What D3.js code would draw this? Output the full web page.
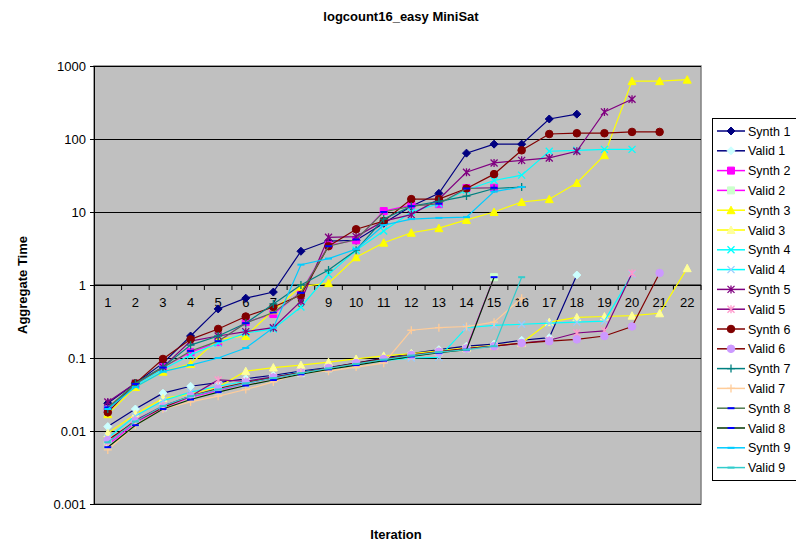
<!DOCTYPE html>
<html>
<head>
<meta charset="utf-8">
<script src="https://cdn.jsdelivr.net/npm/d3@7"></script>
<style>
  body { margin: 0; background: #fff; font-family: Arial, "Liberation Sans", sans-serif; }
</style>
</head>
<body>
<div id="chart"></div>
<script>
// iterations on the category axis
let iterations = [1, 2, 3, 4, 5, 6, 7, 8, 9, 10, 11, 12, 13, 14, 15, 16, 17, 18, 19, 20, 21, 22];
let yTicks = [0.001, 0.01, 0.1, 1, 10, 100, 1000];

// aggregate time per iteration
let synth1 = [0.024, 0.045, 0.085, 0.2, 0.47, 0.66, 0.8, 2.9, 4.0, 4.1, 7.0, 12, 18, 64, 85, 85, 188, 219];
let valid1 = [0.0115, 0.02, 0.033, 0.041, 0.046, 0.052, 0.058, 0.066, 0.074, 0.085, 0.1, 0.115, 0.13, 0.145, 0.155, 0.175, 0.19, 1.37];
let synth2 = [0.02, 0.043, 0.075, 0.12, 0.165, 0.31, 0.4, 0.8, 3.5, 4.1, 10.3, 12.4, 12.8, 21.3, 21.5];
let valid2 = [0.0065, 0.013, 0.021, 0.029, 0.036, 0.045, 0.053, 0.062, 0.072, 0.082, 0.095, 0.108, 0.12, 0.135, 1.28];
let synth3 = [0.017, 0.04, 0.065, 0.083, 0.18, 0.2, 0.45, 0.95, 1.06, 2.4, 3.8, 5.2, 6.0, 7.8, 10, 13.7, 15, 25, 60, 620, 620, 650];
let valid3 = [0.0093, 0.017, 0.028, 0.032, 0.04, 0.066, 0.074, 0.08, 0.088, 0.097, 0.107, 0.115, 0.125, 0.138, 0.148, 0.16, 0.31, 0.36, 0.37, 0.38, 0.41, 1.7];
let synth4 = [0.02, 0.042, 0.07, 0.11, 0.16, 0.22, 0.25, 0.5, 1.4, 3.0, 5.5, 10, 13, 20, 27, 32, 68, 70, 72, 72];
let valid4 = [0.008, 0.016, 0.026, 0.034, 0.041, 0.048, 0.055, 0.064, 0.072, 0.082, 0.092, 0.1, 0.102, 0.26, 0.28, 0.29, 0.3, 0.31, 0.32, 1.4];
let synth5 = [0.025, 0.045, 0.075, 0.17, 0.2, 0.23, 0.26, 0.6, 4.5, 4.6, 7.5, 9.2, 15, 35, 47, 51, 55, 68, 235, 350];
let valid5 = [0.007, 0.014, 0.022, 0.03, 0.05, 0.048, 0.055, 0.063, 0.072, 0.083, 0.095, 0.108, 0.12, 0.135, 0.145, 0.16, 0.175, 0.22, 0.235, 1.45];
let synth6 = [0.018, 0.045, 0.097, 0.18, 0.25, 0.37, 0.5, 0.73, 3.4, 5.8, 7.5, 15, 15, 21, 33, 70, 117, 120, 120, 125, 125];
let valid6 = [0.0075, 0.0135, 0.021, 0.03, 0.038, 0.046, 0.054, 0.063, 0.073, 0.085, 0.097, 0.11, 0.122, 0.135, 0.145, 0.16, 0.17, 0.18, 0.2, 0.27, 1.46];
let synth7 = [0.02, 0.045, 0.075, 0.15, 0.2, 0.3, 0.55, 1.0, 1.6, 3.0, 8, 12, 14, 16.5, 21, 22];
let valid7 = [0.0055, 0.012, 0.02, 0.025, 0.03, 0.037, 0.047, 0.063, 0.066, 0.075, 0.085, 0.24, 0.26, 0.27, 0.31, 0.66];
let synth8 = [0.021, 0.044, 0.074, 0.125, 0.17, 0.3, 0.42, 0.78, 3.4, 4.2, 10, 12, 13, 21, 21.5];
let valid8 = [0.006, 0.012, 0.02, 0.027, 0.034, 0.042, 0.05, 0.06, 0.07, 0.08, 0.092, 0.105, 0.118, 0.13, 1.28];
let synth9 = [0.02, 0.04, 0.065, 0.08, 0.1, 0.137, 0.26, 1.9, 2.3, 3.1, 6.6, 8, 8.3, 8.5, 19, 22];
let valid9 = [0.007, 0.0135, 0.022, 0.03, 0.037, 0.045, 0.053, 0.062, 0.072, 0.083, 0.095, 0.108, 0.12, 0.13, 0.145, 1.28];

let seriesNames = ["Synth 1", "Valid 1", "Synth 2", "Valid 2", "Synth 3", "Valid 3", "Synth 4", "Valid 4", "Synth 5",
    "Valid 5", "Synth 6", "Valid 6", "Synth 7", "Valid 7", "Synth 8", "Valid 8", "Synth 9", "Valid 9"];
let seriesValues = [synth1, valid1, synth2, valid2, synth3, valid3, synth4, valid4, synth5,
    valid5, synth6, valid6, synth7, valid7, synth8, valid8, synth9, valid9];

// line colour, marker shape, marker colour
let styles = [
    { line: "#000080", marker: "diamond", fill: "#000080" },
    { line: "#000080", marker: "diamond", fill: "#CCFFFF" },
    { line: "#FF00FF", marker: "square", fill: "#FF00FF" },
    { line: "#FF00FF", marker: "square", fill: "#CCFFCC" },
    { line: "#FFFF00", marker: "triangle", fill: "#FFFF00" },
    { line: "#FFFF00", marker: "triangle", fill: "#FFFF99" },
    { line: "#00FFFF", marker: "x", fill: "#00FFFF" },
    { line: "#00FFFF", marker: "x", fill: "#99CCFF" },
    { line: "#800080", marker: "star", fill: "#800080" },
    { line: "#800080", marker: "star", fill: "#FF99CC" },
    { line: "#800000", marker: "circle", fill: "#800000" },
    { line: "#800000", marker: "circle", fill: "#CC99FF" },
    { line: "#008080", marker: "plus", fill: "#008080" },
    { line: "#FFCC99", marker: "plus", fill: "#FFCC99" },
    { line: "#4F7A4F", marker: "dash", fill: "#0000FF" },
    { line: "#003300", marker: "dash", fill: "#0000FF" },
    { line: "#00CCFF", marker: "dash", fill: "#00CCFF" },
    { line: "#33CCCC", marker: "dash", fill: "#33CCCC" }
];

let width = 796, height = 546;
let plot = { left: 94, right: 701, top: 66, bottom: 504 };

let svg = d3.select('#chart')
    .append('svg')
    .attr('width', width)
    .attr('height', height);

let x = d3.scaleBand()
    .domain(iterations)
    .range([plot.left, plot.right]);
let xc = function (i) { return x(i) + x.bandwidth() / 2; };

let y = d3.scaleLog()
    .domain([0.001, 1000])
    .range([plot.bottom, plot.top]);

// plot area
svg.append('rect')
    .attr('x', plot.left)
    .attr('y', plot.top)
    .attr('width', plot.right - plot.left)
    .attr('height', plot.bottom - plot.top)
    .style('fill', '#C0C0C0')
    .style('stroke', '#808080')
    .style('stroke-width', 1.5);

// gridlines + y axis
let yAxis = d3.axisLeft(y)
    .tickValues(yTicks)
    .tickSize(-(plot.right - plot.left))
    .tickPadding(8)
    .tickFormat(function (d) { return String(d); });

let yg = svg.append('g')
    .attr('transform', 'translate(' + plot.left + ',0)')
    .call(yAxis);
yg.select('.domain').style('stroke', '#000');
yg.selectAll('.tick line').style('stroke', '#000').attr('x1', -4);
yg.selectAll('.tick text')
    .style('font-size', '13px')
    .style('font-family', 'Arial, "Liberation Sans", sans-serif')
    .style('fill', '#000');

// category axis crossing at 1
let xg = svg.append('g').attr('transform', 'translate(0,' + y(1) + ')');
xg.append('line')
    .attr('x1', plot.left).attr('x2', plot.right)
    .style('stroke', '#000');
xg.selectAll('line.tk')
    .data(iterations)
    .enter()
    .append('line')
    .attr('class', 'tk')
    .attr('x1', function (d) { return x(d) + x.bandwidth(); })
    .attr('x2', function (d) { return x(d) + x.bandwidth(); })
    .attr('y1', 0).attr('y2', 5)
    .style('stroke', '#000');
xg.selectAll('text')
    .data(iterations)
    .enter()
    .append('text')
    .attr('x', function (d) { return xc(d); })
    .attr('y', 22)
    .attr('text-anchor', 'middle')
    .style('font-size', '13px')
    .text(function (d) { return d; });

function markerPath(type) {
    switch (type) {
        case 'diamond': return 'M0,-4L4,0L0,4L-4,0Z';
        case 'square': return 'M-3.5,-3.5H3.5V3.5H-3.5Z';
        case 'triangle': return 'M0,-4L4,3.5H-4Z';
        case 'circle': return d3.symbol(d3.symbolCircle, 45)();
        case 'x': return 'M-3.5,-3.5L3.5,3.5M3.5,-3.5L-3.5,3.5';
        case 'star': return 'M-3.5,-3.5L3.5,3.5M3.5,-3.5L-3.5,3.5M0,-4V4';
        case 'plus': return 'M-4,0H4M0,-4V4';
        case 'dash': return 'M-3.5,-1H3.5V1H-3.5Z';
    }
}

function drawMarker(sel, st) {
    let open = st.marker == 'x' || st.marker == 'star' || st.marker == 'plus';
    sel.attr('d', markerPath(st.marker))
        .style('fill', open ? 'none' : st.fill)
        .style('stroke', open ? st.fill : (st.marker == 'dash' ? 'none' : st.fill))
        .style('stroke-width', open ? 1.3 : 1);
}

let line = d3.line()
    .x(function (d, i) { return xc(iterations[i]); })
    .y(function (d) { return y(d); });

seriesValues.forEach(function (vals, s) {
    let st = styles[s];
    let g = svg.append('g').attr('class', 'series');
    g.append('path')
        .attr('d', line(vals))
        .style('fill', 'none')
        .style('stroke', st.line)
        .style('stroke-width', 1.2);
    g.selectAll('path.mk')
        .data(vals)
        .enter()
        .append('path')
        .attr('class', 'mk')
        .attr('transform', function (d, i) { return 'translate(' + xc(iterations[i]) + ',' + y(d) + ')'; })
        .call(drawMarker, st);
});

// legend
let lg = svg.append('g');
lg.append('rect')
    .attr('x', 712.5).attr('y', 118.5)
    .attr('width', 90).attr('height', 362)
    .style('fill', '#fff')
    .style('stroke', '#000');
let items = lg.selectAll('g.item')
    .data(seriesNames)
    .enter()
    .append('g')
    .attr('transform', function (d, i) { return 'translate(0,' + (131 + i * 19.8) + ')'; });
items.append('line')
    .attr('x1', 717).attr('x2', 745)
    .style('stroke', function (d, i) { return styles[i].line; })
    .style('stroke-width', 1.5);
items.append('path')
    .attr('transform', 'translate(731,0)')
    .each(function (d, i) { d3.select(this).call(drawMarker, styles[i]); });
items.append('text')
    .attr('x', 748).attr('y', 4.5)
    .style('font-size', '12.5px')
    .text(function (d) { return d; });

// titles
svg.append('text')
    .attr('x', 401).attr('y', 21)
    .attr('text-anchor', 'middle')
    .style('font-size', '13px').style('font-weight', 'bold')
    .text('logcount16_easy MiniSat');
svg.append('text')
    .attr('transform', 'translate(27,' + ((plot.top + plot.bottom) / 2) + ') rotate(-90)')
    .attr('text-anchor', 'middle')
    .style('font-size', '13px').style('font-weight', 'bold')
    .text('Aggregate Time');
svg.append('text')
    .attr('x', 396).attr('y', 539)
    .attr('text-anchor', 'middle')
    .style('font-size', '13px').style('font-weight', 'bold')
    .text('Iteration');
</script>
</body>
</html>
